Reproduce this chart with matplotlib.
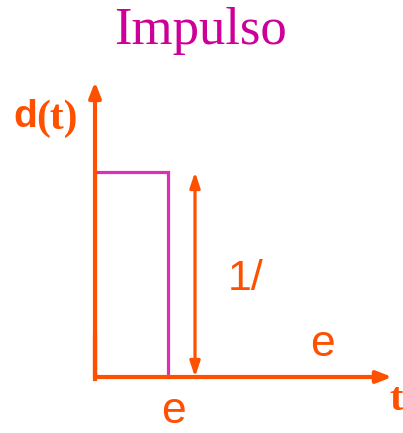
import matplotlib.pyplot as plt

# pulse d(t): width e, height 1/e (normalised units)
pulse_t = [0.0, 0.0, 1.0, 1.0]
pulse_d = [0.0, 1.0, 1.0, 0.0]
t_axis_end = 4.07
d_axis_end = 1.44
height_marker_t = 1.37

title = 'Impulso'
ylabel_d, ylabel_paren = 'd', '(t)'
xlabel = 't'
height_label = '1/'
width_label = 'e'

ORANGE = '#FF5000'
MAGENTA = '#DC2FB8'
TITLE_COL = '#CC0099'

fig = plt.figure(figsize=(4.03, 4.33), dpi=100)
ax = fig.add_axes([0, 0, 1, 1])
ax.set_xlim(-95 / 73, 308 / 73)
ax.set_ylim(-56 / 205, 377 / 205)
ax.axis('off')

# rectangle pulse
ax.plot(pulse_t, pulse_d, color=MAGENTA, lw=2.3, solid_joinstyle='miter', zorder=2)

# axes with arrows
arrow = dict(arrowstyle='-|>,head_length=0.9,head_width=0.35', color=ORANGE,
             lw=3, shrinkA=0, shrinkB=0)
ax.annotate('', xy=(0, d_axis_end), xytext=(0, 0), arrowprops=arrow, zorder=3)
ax.annotate('', xy=(t_axis_end, 0), xytext=(0, 0), arrowprops=arrow, zorder=3)
ax.plot([0, 0], [-0.008, 0.2], color=ORANGE, lw=3, zorder=3)

# height double arrow
darrow = dict(arrowstyle='<|-|>,head_length=0.9,head_width=0.3', color=ORANGE,
              lw=2.3, shrinkA=0, shrinkB=0)
ax.annotate('', xy=(height_marker_t, pulse_d[1]), xytext=(height_marker_t, 0),
            arrowprops=darrow, zorder=3)

# texts
ax.text(1.44, 1.69, title, color=TITLE_COL, fontsize=38,
        family='Liberation Serif', ha='center', va='center')
ax.text(-1.12, 1.27, ylabel_d, color=ORANGE, fontsize=28, fontweight='bold',
        family='Liberation Sans', ha='left', va='center')
ax.text(-0.80, 1.262, ylabel_paren, color=ORANGE, fontsize=30, fontweight='bold',
        family='Liberation Serif', ha='left', va='center')
ax.text(1.82, 0.48, height_label, color=ORANGE, fontsize=31,
        family='Liberation Sans', ha='left', va='center')
ax.text(3.12, 0.16, width_label, color=ORANGE, fontsize=32,
        family='Liberation Sans', ha='center', va='center')
ax.text(1.08, -0.17, width_label, color=ORANGE, fontsize=32,
        family='Liberation Sans', ha='center', va='center')
ax.text(4.12, -0.115, xlabel, color=ORANGE, fontsize=29, fontweight='bold',
        family='Liberation Serif', ha='center', va='center')

fig.savefig('out.png', dpi=100)
